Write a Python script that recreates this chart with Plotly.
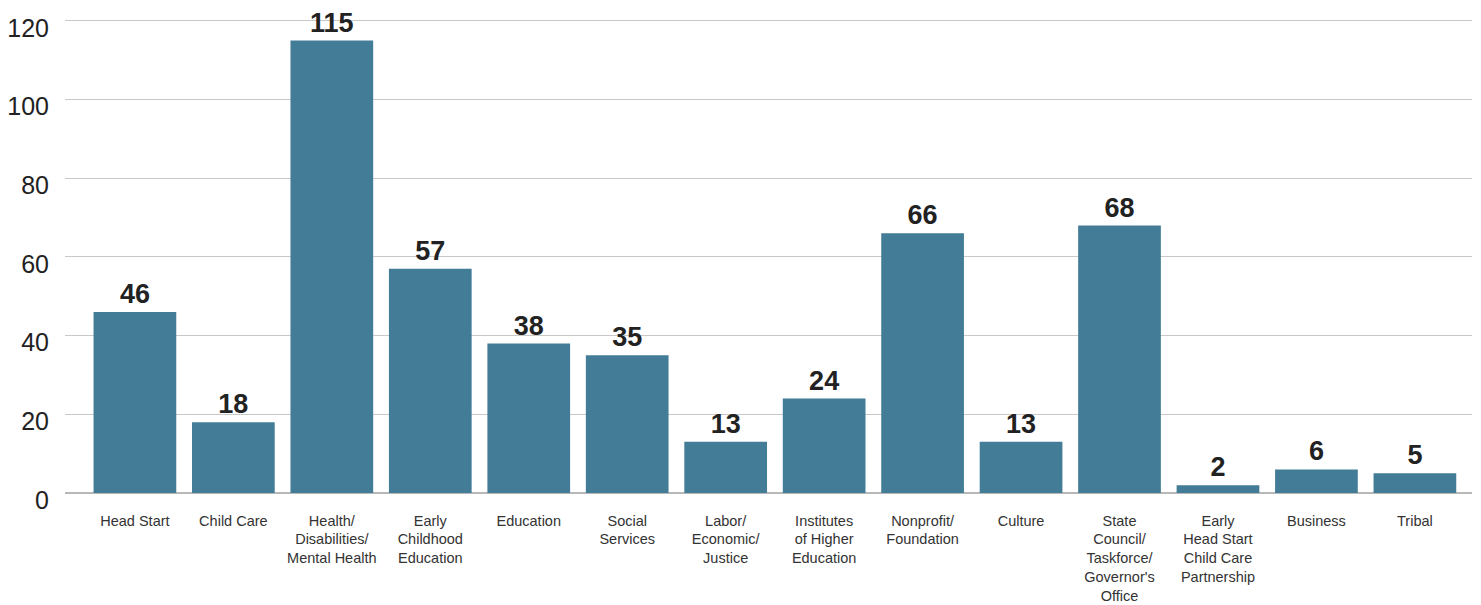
import plotly.graph_objects as go

categories = [
    "Head Start", "Child Care", "Health/<br>Disabilities/<br>Mental Health",
    "Early<br>Childhood<br>Education", "Education", "Social<br>Services",
    "Labor/<br>Economic/<br>Justice", "Institutes<br>of Higher<br>Education",
    "Nonprofit/<br>Foundation", "Culture",
    "State<br>Council/<br>Taskforce/<br>Governor's<br>Office",
    "Early<br>Head Start<br>Child Care<br>Partnership", "Business", "Tribal",
]
values = [46, 18, 115, 57, 38, 35, 13, 24, 66, 13, 68, 2, 6, 5]
y_ticks = [0, 20, 40, 60, 80, 100, 120]

fig = go.Figure(go.Bar(
    x=list(range(len(categories))),
    y=values,
    marker=dict(color="#437C96", line=dict(width=0)),
    text=[str(v) for v in values],
    textposition="outside",
    textfont=dict(family="Liberation Sans, Arial", size=27, color="#222222", weight=700),
    cliponaxis=False,
    hoverinfo="skip",
))

fig.update_layout(
    width=1481, height=605,
    margin=dict(l=65, r=9, t=17, b=112),
    plot_bgcolor="white", paper_bgcolor="white",
    bargap=0.16,
    showlegend=False,
    font=dict(family="Liberation Sans, Arial", color="#333333"),
)
fig.update_xaxes(
    range=[-0.71, 13.58],
    tickmode="array",
    tickvals=list(range(len(categories))),
    ticktext=categories,
    tickfont=dict(size=14.5, color="#333333"),
    showgrid=False, zeroline=False, showline=False,
    ticks="", ticklabelstandoff=17, automargin=False,
)
fig.update_yaxes(
    range=[0, 121],
    tickmode="array", tickvals=y_ticks,
    tickfont=dict(size=25, color="#222222"),
    showgrid=True, gridcolor="#C8C8C8", gridwidth=1,
    zeroline=True, zerolinecolor="#B8B8B8", zerolinewidth=2,
    showline=False, ticks="", automargin=False,
    ticklabelstandoff=15, ticklabelshift=7,
)

fig.write_html("out.html", config={"displayModeBar": False},
               post_script="document.body.style.margin='0';")
